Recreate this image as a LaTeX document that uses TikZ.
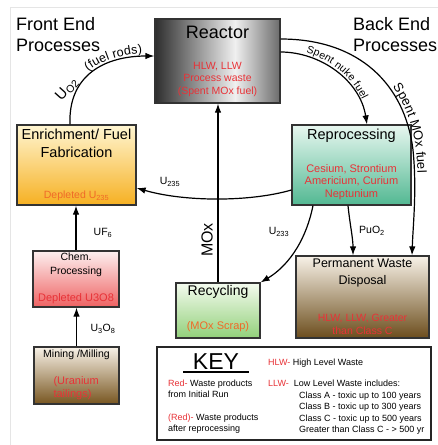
\documentclass[tikz,border=0pt]{standalone}
\usepackage{fontspec}
\setmainfont{Liberation Sans}
\usetikzlibrary{arrows.meta,decorations.text}
\definecolor{wastered}{RGB}{232,50,55}
\definecolor{depleted}{RGB}{240,105,40}
\definecolor{enrtop}{RGB}{255,246,210}
\definecolor{enrbot}{RGB}{246,176,34}
\definecolor{reptop}{RGB}{232,247,240}
\definecolor{repbot}{RGB}{82,184,146}
\definecolor{chemtop}{RGB}{253,240,240}
\definecolor{chembot}{RGB}{238,98,98}
\definecolor{recytop}{RGB}{244,251,239}
\definecolor{recybot}{RGB}{146,208,122}
\definecolor{mudtop}{RGB}{248,242,232}
\definecolor{mudbot}{RGB}{120,86,32}
\pgfdeclarehorizontalshading{reactorshade}{100bp}{color(0bp)=(black!82); color(25bp)=(black!82); color(57bp)=(black!6); color(75bp)=(black!58); color(100bp)=(black!58)}
\newcommand{\fsz}[2]{\fontsize{#1}{#2}\selectfont}

\begin{document}
\begin{tikzpicture}[x=1pt,y=-1pt,>={Latex[length=9pt,width=6.5pt]},
  box/.style={draw=black!80,line width=1.2pt,inner sep=0pt},
  flow/.style={->,line width=1.2pt},
  lab/.style={font=\fsz{10.5}{12}},
  waste/.style={text=wastered,align=center},
  keytxt/.style={font=\fsz{9}{11.5},align=left,inner sep=0pt}]
\useasboundingbox (0,0) rectangle (438,445);
\draw[black!10,line width=1pt] (10,445) -- (10,7) -- (438,7);

% headings
\node[anchor=north west,align=left,inner sep=0pt,font=\fsz{18}{21}] (front) at (16,17) {Front End\\Processes};
\node[anchor=north west,align=left,inner sep=0pt,font=\fsz{18}{21}] (back) at (353,17) {Back End\\Processes};

% boxes
\node[box,shade,shading=reactorshade,minimum width=125pt,minimum height=84pt] (reac) at (217.5,61) {};
\node[box,top color=enrtop,bottom color=enrbot,minimum width=119pt,minimum height=80pt] (enr) at (76.5,165) {};
\node[box,top color=reptop,bottom color=repbot,minimum width=119pt,minimum height=80pt] (repr) at (351.5,165) {};
\node[box,top color=chemtop,bottom color=chembot,minimum width=86pt,minimum height=56pt] (chem) at (76,279) {};
\node[box,top color=mudtop,bottom color=mudbot,minimum width=85pt,minimum height=57pt] (mine) at (76.5,375.5) {};
\node[box,top color=recytop,bottom color=recybot,minimum width=84pt,minimum height=55pt] (recy) at (218,310.5) {};
\node[box,top color=mudtop,bottom color=mudbot!90!black,minimum width=133pt,minimum height=82pt] (perm) at (362.5,297) {};
\node[box,draw=black!85,line width=1.5pt,fill=white,minimum width=274pt,minimum height=93pt] (key) at (294,393.5) {};

% box texts
\node[font=\fsz{18}{20}] (reactit) at (217.5,32) {Reactor};
\node[waste,font=\fsz{10.5}{12.5}] (reacred) at (217.5,79) {HLW, LLW\\Process waste\\(Spent MOx fuel)};
\node[align=center,font=\fsz{14.5}{18}] (enrtit) at (76.5,143.5) {Enrichment/ Fuel\\Fabrication};
\node[text=depleted,font=\fsz{10.5}{12}] (enrred) at (76.5,196) {Depleted U\textsubscript{235}};
\node[font=\fsz{14.5}{17}] (reprtit) at (351.5,136) {Reprocessing};
\node[waste,font=\fsz{11}{12.5}] (reprred) at (351.5,182) {Cesium, Strontium\\Americium, Curium\\Neptunium};
\node[align=center,font=\fsz{10.5}{14}] (chemtit) at (76,265) {Chem.\\Processing};
\node[text=wastered,font=\fsz{11}{12}] (chemred) at (76,299) {Depleted U3O8};
\node[font=\fsz{10.5}{12}] (minetit) at (76.5,355) {Mining /Milling};
\node[waste,align=left,anchor=west,font=\fsz{11}{13}] (minered) at (50,388.5) {(Uranium\\tailings)};
\node[font=\fsz{14}{16}] (recytit) at (218,292) {Recycling};
\node[text=depleted,font=\fsz{11}{12}] (recyred) at (218,327) {(MOx Scrap)};
\node[align=center,font=\fsz{12.5}{17}] (permtit) at (362.5,273) {Permanent Waste\\Disposal};
\node[waste,font=\fsz{10.5}{13}] (permred) at (362.5,324.5) {HLW, LLW, Greater\\than Class C};

% flows
\draw[flow,postaction={decorate,decoration={text along path,raise=3pt,
    text align={right,right indent=12pt},text={|\fsz{12.5}{13}|(fuel rods)}}}]
  ([xshift=-6.5pt]enr.north) .. controls (68,75) and (105,56) .. ([yshift=5pt]reac.west);
\node[rotate=48,inner sep=0pt,font=\fsz{15}{16}] (luo) at (67,89) {U\textsubscript{O2}};
\draw[flow,postaction={decorate,decoration={text along path,raise=3pt,
    text align=center,text={|\fsz{10.5}{12}|Spent nuke fuel}}}]
  ([yshift=9pt]reac.east) .. controls (320,52) and (360,80) .. ([xshift=15.5pt]repr.north);
\draw[flow,postaction={decorate,decoration={text along path,raise=3pt,
    text align={left,left indent=125pt},text={|\fsz{13}{14}|Spent MOx fuel}}}]
  ([yshift=22pt]reac.east) .. controls (360,39) and (405,85) .. (413,150)
  .. controls (417,190) and (413,225) .. ([xshift=49.5pt]perm.north);
\draw[flow] (recy.north) -- (recy.north |- reac.south);
\node[rotate=90,font=\fsz{16}{17}] (lmox) at (207,240) {MOx};
\draw[flow] ([yshift=-25pt]repr.west) .. controls (250,202) and (185,202) .. ([yshift=-23pt]enr.east);
\node[lab] (l235) at (170,182) {U\textsubscript{235}};
\draw[flow] ([xshift=-38.5pt]repr.south) .. controls (305,245) and (285,268) .. (recy.north east);
\node[lab] (l233) at (279,232) {U\textsubscript{233}};
\draw[flow] ([xshift=-3.5pt]repr.south) .. controls (350,225) and (353,238) .. ([xshift=-9.5pt]perm.north);
\node[lab] (lpu) at (372,231) {PuO\textsubscript{2}};
\draw[flow] (chem.north) -- (chem.north |- enr.south);
\node[lab] (luf) at (103,233) {UF\textsubscript{6}};
\draw[flow] (mine.north) -- (mine.north |- chem.south);
\node[lab] (lu3) at (103,329) {U\textsubscript{3}O\textsubscript{8}};

% key
\node[font=\fsz{23}{24}] (keytit) at (216,361.5) {KEY};
\draw[line width=1.8pt] (183,372) -- (249,372);
\node[keytxt,anchor=west] (hlw) at (268,363) {\textcolor{wastered}{HLW-} High Level Waste};
\node[keytxt,anchor=west] (llw) at (268,383) {\textcolor{wastered}{LLW-}\ \ Low Level Waste includes:};
\node[keytxt,anchor=north west] (redone) at (168,379.5) {\textcolor{wastered}{Red-}\ Waste products\\from Initial Run};
\node[keytxt,anchor=north west] (redtwo) at (168,413.5) {\textcolor{wastered}{(Red)-}\ Waste products\\after reprocessing};
\node[keytxt,anchor=north west] (classes) at (299,391.5) {Class A - toxic up to 100 years\\Class B - toxic up to 300 years\\Class C - toxic up to 500 years\\Greater than Class C - > 500 yr};
\end{tikzpicture}
\end{document}
